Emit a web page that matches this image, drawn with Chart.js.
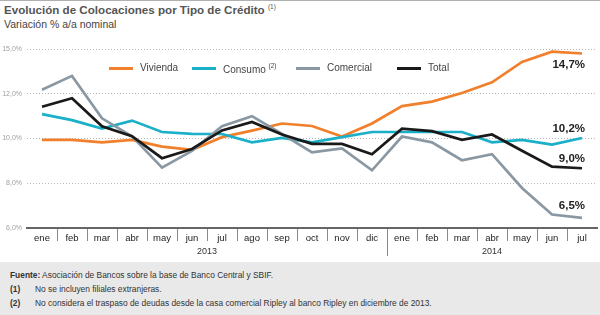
<!DOCTYPE html>
<html>
<head>
<meta charset="utf-8">
<script src="https://cdn.jsdelivr.net/npm/chart.js@4/dist/chart.umd.min.js"></script>
<style>
  body{margin:0;width:600px;height:315px;position:relative;overflow:hidden;background:#fff;font-family:"Liberation Sans",Arial,sans-serif;}
  .abs{position:absolute;white-space:nowrap;}
  #title{left:4px;top:3px;font-weight:bold;font-size:11.6px;color:#555;letter-spacing:0;}
  #title sup, .lg sup{font-size:6.5px;font-weight:normal;vertical-align:5px;}
  #sub{left:4px;top:18px;font-size:10.5px;color:#444;}
  #topline{left:0;top:0;width:600px;height:1px;background:#b0b0b0;}
  #chartwrap{left:0;top:0;width:600px;height:262px;}
  .lg{font-size:10px;color:#444;top:62px;}
  .sw{position:absolute;height:3px;width:24px;top:67px;}
  #footer{left:0;top:262px;width:600px;height:53px;background:#e9e9e9;font-size:8.4px;color:#333;}
  #footer .ln{position:absolute;white-space:nowrap;}
</style>
</head>
<body>
<div id="topline" class="abs"></div>
<div id="title" class="abs">Evolución de Colocaciones por Tipo de Crédito <sup>(1)</sup></div>
<div id="sub" class="abs">Variación % a/a nominal</div>
<div id="chartwrap" class="abs"><canvas id="c" width="600" height="262"></canvas></div>
<div id="legend"></div>
<div id="footer" class="abs">
  <div class="ln" style="left:10px;top:8px;"><b>Fuente:</b> Asociación de Bancos sobre la base de Banco Central y SBIF.</div>
  <div class="ln" style="left:10px;top:22px;"><b>(1)</b></div>
  <div class="ln" style="left:35px;top:22px;">No se incluyen filiales extranjeras.</div>
  <div class="ln" style="left:10px;top:36px;"><b>(2)</b></div>
  <div class="ln" style="left:35px;top:36px;">No considera el traspaso de deudas desde la casa comercial Ripley al banco Ripley en diciembre de 2013.</div>
</div>
<script>
// ---- data ----
const months = ['ene','feb','mar','abr','may','jun','jul','ago','sep','oct','nov','dic','ene','feb','mar','abr','may','jun','jul'];
const years = ['2013','2014'];
const yearStarts = [0, 12];
const yTicks = [6, 8, 10, 12, 15];
const seriesNames = ['Vivienda', 'Consumo', 'Comercial', 'Total'];
const vivienda  = [9.94, 9.94, 9.83, 9.94, 9.64, 9.49, 10.06, 10.35, 10.67, 10.56, 10.09, 10.67, 11.45, 11.65, 12.05, 12.77, 14.13, 14.82, 14.7];
const consumo   = [11.09, 10.82, 10.44, 10.8, 10.29, 10.21, 10.2, 9.83, 10.03, 9.83, 10.06, 10.29, 10.29, 10.29, 10.29, 9.83, 9.94, 9.73, 10.02];
const comercial = [12.27, 13.2, 10.9, 10.1, 8.7, 9.45, 10.55, 11.0, 10.2, 9.38, 9.56, 8.58, 10.09, 9.83, 9.03, 9.3, 7.79, 6.6, 6.45];
const total     = [11.42, 11.8, 10.55, 10.1, 9.12, 9.53, 10.36, 10.74, 10.18, 9.76, 9.76, 9.3, 10.44, 10.33, 9.94, 10.18, 9.45, 8.74, 8.67];
const endLabels = ['14,7%', '10,2%', '6,5%', '9,0%'];

// ---- styles ----
const colors = ['#f0802c', '#19b0c8', '#8a98a3', '#1a1a1a'];
const endLabelDy = [11, -9, -12, -9];
const superscripts = ['', '(2)', '', ''];
const legendX = [109, 192, 296, 397];

// Piecewise axis: the reference grid is evenly spaced at 6,8,10,12,15
const Base = Chart.LinearScale || Chart.registry.getScale('linear');
class PiecewiseScale extends Base {
  toU(v){ return v <= 12 ? v : 12 + (v - 12) * 2 / 3; }
  fromU(u){ return u <= 12 ? u : 12 + (u - 12) * 1.5; }
  getPixelForValue(v){
    if (v === null || v === undefined || isNaN(v)) return NaN;
    return this.getPixelForDecimal((this.toU(v) - 6) / 8);
  }
  getValueForPixel(p){
    return this.fromU(6 + this.getDecimalForPixel(p) * 8);
  }
}
PiecewiseScale.id = 'piecewise';
PiecewiseScale.defaults = {};
Chart.register(PiecewiseScale);

// legend (HTML)
const lg = document.getElementById('legend');
seriesNames.forEach((n, i) => {
  const sw = document.createElement('div');
  sw.className = 'sw';
  sw.style.left = legendX[i] + 'px';
  sw.style.background = colors[i];
  lg.appendChild(sw);
  const t = document.createElement('div');
  t.className = 'abs lg';
  t.style.left = (legendX[i] + 31) + 'px';
  t.innerHTML = n + (superscripts[i] ? ' <sup>' + superscripts[i] + '</sup>' : '');
  lg.appendChild(t);
});

const dataSets = [vivienda, consumo, comercial, total];

const decoPlugin = {
  id: 'deco',
  afterDraw(chart){
    const ctx = chart.ctx;
    const xs = chart.scales.x;
    const ca = chart.chartArea;
    const axisY = ca.bottom;
    ctx.save();
    // month separators
    ctx.strokeStyle = '#8a8a8a';
    ctx.lineWidth = 1;
    for (let i = 1; i < months.length; i++) {
      const x = Math.round((xs.getPixelForValue(i - 1) + xs.getPixelForValue(i)) / 2) + 0.5;
      const long = yearStarts.includes(i);
      ctx.beginPath();
      ctx.moveTo(x, axisY + 1);
      ctx.lineTo(x, axisY + (long ? 28 : 13));
      ctx.stroke();
    }
    // year labels
    ctx.fillStyle = '#333';
    ctx.font = '9px "Liberation Sans", Arial, sans-serif';
    ctx.textAlign = 'center';
    ctx.textBaseline = 'middle';
    years.forEach((y, k) => {
      const s = yearStarts[k];
      const e = k + 1 < yearStarts.length ? yearStarts[k + 1] : months.length;
      const x0 = s === 0 ? ca.left : (xs.getPixelForValue(s - 1) + xs.getPixelForValue(s)) / 2;
      const x1 = e === months.length ? ca.right : (xs.getPixelForValue(e - 1) + xs.getPixelForValue(e)) / 2;
      ctx.fillText(y, (x0 + x1) / 2, axisY + 24);
    });
    // end labels
    ctx.font = 'bold 11.5px "Liberation Sans", Arial, sans-serif';
    ctx.fillStyle = '#222';
    ctx.textAlign = 'right';
    chart.data.datasets.forEach((ds, i) => {
      const meta = chart.getDatasetMeta(i);
      const pt = meta.data[meta.data.length - 1];
      ctx.fillText(endLabels[i], pt.x + 3, pt.y + endLabelDy[i]);
    });
    ctx.restore();
  }
};

new Chart(document.getElementById('c'), {
  type: 'line',
  data: {
    labels: months,
    datasets: dataSets.map((d, i) => ({
      label: seriesNames[i],
      data: d,
      borderColor: colors[i],
      backgroundColor: colors[i],
      borderWidth: 2.7,
      pointRadius: 0,
      tension: 0,
      order: i === 3 ? 0 : 4 - i
    }))
  },
  options: {
    responsive: false,
    animation: false,
    devicePixelRatio: 1,
    layout: { padding: { top: 49, right: 3, left: 0, bottom: 0 } },
    plugins: { legend: { display: false }, tooltip: { enabled: false }, title: { display: false } },
    scales: {
      x: {
        type: 'category',
        offset: true,
        grid: { display: false, drawTicks: false },
        border: { display: true, color: '#666', width: 2 },
        ticks: { color: '#222', font: { size: 9.5, family: '"Liberation Sans", Arial, sans-serif' }, padding: 5, maxRotation: 0, autoSkip: false },
        afterFit: s => { s.height = 34; }
      },
      y: {
        type: 'piecewise',
        min: 6,
        max: 15,
        afterBuildTicks: s => { s.ticks = yTicks.map(v => ({ value: v })); },
        grid: { color: '#b8b8b8', lineWidth: 1, drawTicks: false },
        border: { display: false, dash: [1, 2] },
        ticks: {
          color: '#a0a0a0',
          font: { size: 7, family: '"Liberation Sans", Arial, sans-serif' },
          padding: 5,
          callback: v => v.toFixed(1).replace('.', ',') + '%'
        },
        afterFit: s => { s.width = 27; }
      }
    }
  },
  plugins: [decoPlugin]
});
</script>
</body>
</html>
